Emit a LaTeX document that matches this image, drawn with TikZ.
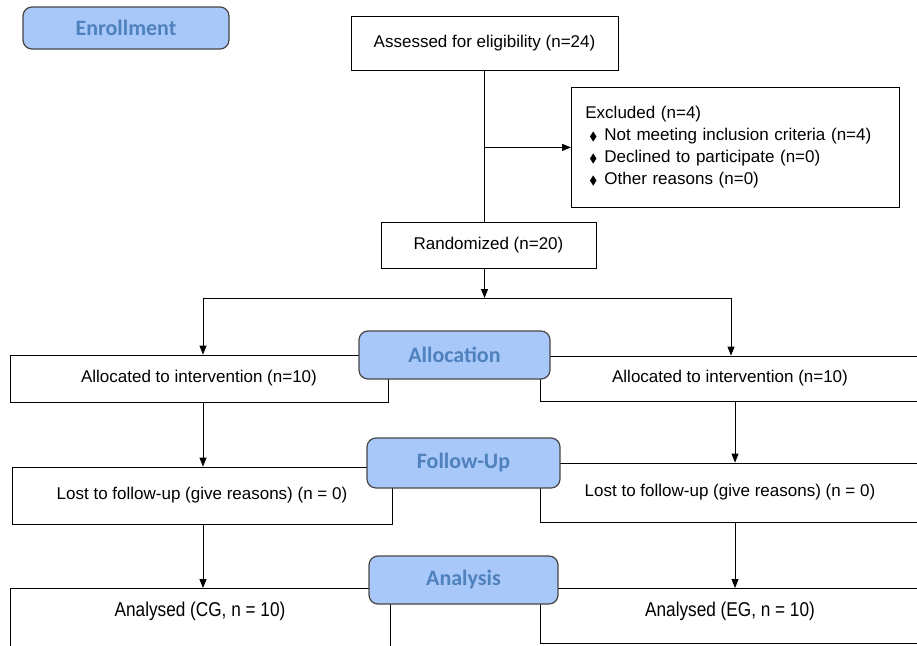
\documentclass[tikz,border=0pt]{standalone}
\usepackage{fontspec}
\usepackage{amssymb}
\setmainfont{Liberation Sans}
\newfontfamily\stagefont{Carlito}
\newfontfamily\narrowfont[FakeStretch=0.86]{Liberation Sans}
\usetikzlibrary{positioning, arrows.meta, calc}
\definecolor{cStage}{RGB}{168,200,250}
\definecolor{cStageText}{RGB}{79,129,189}
\definecolor{cStageLine}{RGB}{70,70,70}
\newcommand{\bul}{\hspace*{4pt}\makebox[15pt][l]{$\scriptstyle\blacklozenge$}}

\tikzset{
  flowbox/.style={draw, line width=0.8pt, inner sep=0pt, font=\fontsize{17}{22}\selectfont},
  stagebox/.style={draw=cStageLine, fill=cStage, rounded corners=9pt, line width=1.2pt, inner sep=0pt,
    text=cStageText, font=\stagefont\bfseries\fontsize{22}{26}\selectfont},
  flowarrow/.style={-{Triangle[length=9pt,width=7pt]}, line width=0.8pt},
  flowline/.style={line width=0.8pt},
}

\begin{document}
\begin{tikzpicture}[x=1pt, y=-1pt]
    \clip (0,0) rectangle (917,645);
    \useasboundingbox (0,0) rectangle (917,645);

    % enrollment
    \node[flowbox, minimum width=267pt, minimum height=54pt] (assess) at (484.5,43) {Assessed for eligibility (n=24)};
    \node[flowbox, anchor=north west, text width=300pt, inner xsep=14pt, minimum height=120pt, align=left] (excl) at (571,87)
        {Excluded (n=4)\\ \bul Not meeting inclusion criteria (n=4)\\ \bul Declined to participate (n=0)\\ \bul Other reasons (n=0)};
    \node[flowbox, minimum width=215pt, minimum height=46pt] (rand) at (488.5,245) {Randomized (n=20)};

    % allocation
    \node[flowbox, minimum width=378pt, minimum height=47pt] (allocL) at (199,378.5) {Allocated to intervention (n=10)};
    \node[flowbox, minimum width=380pt, minimum height=45pt] (allocR) at (730,378.5) {Allocated to intervention (n=10)};

    % follow-up
    \node[flowbox, minimum width=380pt, minimum height=57pt] (followL) at (202,495.5) {Lost to follow-up (give reasons) (n = 0)};
    \node[flowbox, minimum width=380pt, minimum height=59pt] (followR) at (730,492.5) {Lost to follow-up (give reasons) (n = 0)};

    % analysis
    \node[flowbox, anchor=north, minimum width=380pt, text height=28pt, text depth=54pt, font=\narrowfont\fontsize{20}{24}\selectfont] (analysL) at (200,588) {Analysed (CG, n = 10)};
    \node[flowbox, anchor=north, minimum width=380pt, text height=28pt, text depth=27pt, font=\narrowfont\fontsize{20}{24}\selectfont] (analysR) at (730,588) {Analysed (EG, n = 10)};

    % stage labels
    \node[stagebox, minimum width=206pt, minimum height=42pt] (enroll) at (126,28) {Enrollment};
    \node[stagebox, minimum width=191pt, minimum height=48pt] (alloc) at (454.5,355) {Allocation};
    \node[stagebox, minimum width=193pt, minimum height=50pt] (follow) at (463.5,463) {Follow-Up};
    \node[stagebox, minimum width=189pt, minimum height=48pt] (analys) at (463.5,580) {Analysis};

    \coordinate (exclJoin) at (assess.south |- excl.west);
    \coordinate (split) at (assess.south |- 0,298);
    \coordinate (splitL) at (203,298);
    \coordinate (splitR) at (731,298);

    \draw[flowline] (assess.south) -- (assess.south |- rand.north);
    \draw[flowarrow] (exclJoin) -- (excl.west);
    \draw[flowarrow] (assess.south |- rand.south) -- (split);
    \draw[flowline] (splitL) -- (splitR);
    \draw[flowarrow] (splitL) -- (splitL |- allocL.north);
    \draw[flowarrow] (splitR) -- (splitR |- allocR.north);
    \draw[flowarrow] ([xshift=4pt]allocL.south) -- ([xshift=4pt]allocL.south |- followL.north);
    \draw[flowarrow] ([xshift=5pt]allocR.south) -- ([xshift=5pt]allocR.south |- followR.north);
    \draw[flowarrow] ([xshift=1pt]followL.south) -- ([xshift=1pt]followL.south |- analysL.north);
    \draw[flowarrow] ([xshift=5pt]followR.south) -- ([xshift=5pt]followR.south |- analysR.north);
\end{tikzpicture}
\end{document}
